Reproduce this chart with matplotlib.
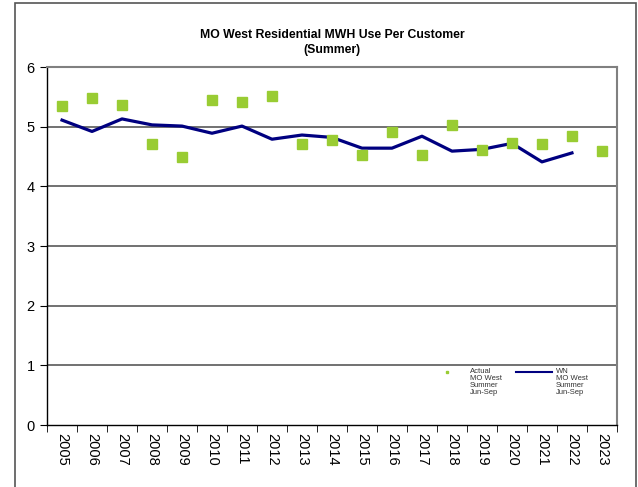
import matplotlib
matplotlib.use("Agg")
import matplotlib.pyplot as plt
from matplotlib.lines import Line2D
from matplotlib.patches import Rectangle
import numpy as np

plt.rcParams['font.family'] = ['Liberation Sans', 'DejaVu Sans']

years = ['2005', '2006', '2007', '2008', '2009', '2010', '2011', '2012', '2013', '2014',
         '2015', '2016', '2017', '2018', '2019', '2020', '2021', '2022', '2023']
actual = [5.34, 5.48, 5.36, 4.71, 4.49, 5.44, 5.41, 5.51, 4.71, 4.77,
          4.52, 4.91, 4.52, 5.03, 4.61, 4.72, 4.71, 4.84, 4.59]
wn = [5.11, 4.92, 5.13, 5.03, 5.01, 4.89, 5.01, 4.79, 4.86, 4.82,
      4.64, 4.64, 4.84, 4.59, 4.62, 4.72, 4.41, 4.56, np.nan]
legend_labels = ['Actual\nMO West\nSummer\nJun-Sep', 'WN\nMO West\nSummer\nJun-Sep']

fig = plt.figure(figsize=(6.38, 4.87), dpi=100)
ax = fig.add_axes([0.0737, 0.1273, 0.8933, 0.7351])

x = np.arange(len(years))
for yv in range(1, 6):
    ax.axhline(yv, color='#4a4a4a', lw=1.1, zorder=1)
ax.plot(x, wn, color='#000080', lw=2.3, zorder=3)
ax.plot(x, actual, ls='none', marker='s', ms=7.2, color='#99CC33', zorder=4)

ax.set_xlim(-0.5, len(years) - 0.5)
ax.set_ylim(0, 6)
ax.set_yticks(range(0, 7))
ax.set_xticks(x)
ax.set_xticklabels(years, rotation=270, fontsize=10.5)
ax.set_xticks(np.arange(-0.5, len(years)), minor=True)
ax.tick_params(axis='x', which='major', length=0, pad=6)
ax.tick_params(axis='x', which='minor', length=5, direction='out', color='black')
ax.tick_params(axis='y', length=5, direction='out', labelsize=10.5, pad=4)

for s in ['left', 'bottom']:
    ax.spines[s].set_color('black')
    ax.spines[s].set_linewidth(1.0)
for s in ['top', 'right']:
    ax.spines[s].set_color('#808080')
    ax.spines[s].set_linewidth(1.5)

ax.set_title('MO West Residential MWH Use Per Customer\n(Summer)',
             fontsize=8.8, fontweight='bold', pad=10, linespacing=1.4)

# manual legend (axes coordinates)
ax.add_line(Line2D([0.702], [0.148], transform=ax.transAxes, ls='none', marker='s',
                   ms=1.6, color='#99CC33', clip_on=False))
ax.add_line(Line2D([0.823, 0.886], [0.148, 0.148], transform=ax.transAxes,
                   color='#000080', lw=1.5, clip_on=False))
ax.text(0.742, 0.159, legend_labels[0], transform=ax.transAxes, fontsize=5.5,
        va='top', ha='left', color='#333333', linespacing=1.0)
ax.text(0.893, 0.159, legend_labels[1], transform=ax.transAxes, fontsize=5.5,
        va='top', ha='left', color='#333333', linespacing=1.0)

fig.patches.append(Rectangle((15 / 638, -0.01), (636 - 15) / 638, 1 - 3 / 487 + 0.01,
                             transform=fig.transFigure, fill=False,
                             edgecolor='#555555', lw=1.2))

fig.savefig('out.png', dpi=100)
